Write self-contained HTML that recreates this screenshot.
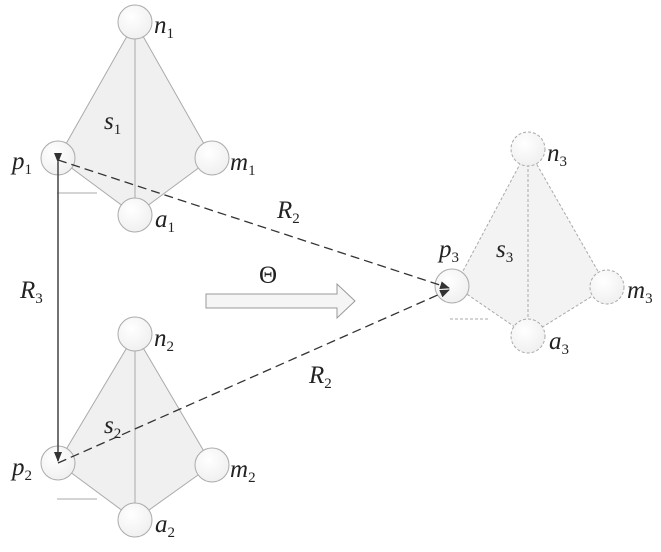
<!DOCTYPE html>
<html><head><style>body{margin:0;background:#fff}</style></head><body>
<svg width="661" height="547" xmlns="http://www.w3.org/2000/svg" font-family="Liberation Serif, serif" font-style="italic">
<defs>
<marker id="ah" markerWidth="10" markerHeight="8" refX="9" refY="4" orient="auto" markerUnits="userSpaceOnUse"><path d="M0,0 L10,4 L0,8 Z" fill="#333"/></marker>
<radialGradient id="g" cx="0.4" cy="0.35" r="0.7"><stop offset="0" stop-color="#fff"/><stop offset="1" stop-color="#efefef"/></radialGradient>
</defs>
<g stroke="#aaa" stroke-width="1">
<path d="M135,22 L58,158 L135,215 L212,158 Z" fill="#f0f0f0"/>
<line x1="135" y1="22" x2="135" y2="215"/>
<line x1="57" y1="193" x2="97" y2="193"/>
<circle cx="135" cy="22" r="17" fill="url(#g)"/><circle cx="58" cy="158" r="17" fill="url(#g)"/>
<circle cx="212" cy="158" r="17" fill="url(#g)"/><circle cx="135" cy="215" r="17" fill="url(#g)"/>
</g>
<g stroke="#aaa" stroke-width="1">
<path d="M135,334 L58,463 L135,520 L212,465 Z" fill="#f0f0f0"/>
<line x1="135" y1="334" x2="135" y2="520"/>
<line x1="57" y1="499" x2="97" y2="499"/>
<circle cx="135" cy="334" r="17" fill="url(#g)"/><circle cx="58" cy="463" r="17" fill="url(#g)"/>
<circle cx="212" cy="465" r="17" fill="url(#g)"/><circle cx="135" cy="520" r="17" fill="url(#g)"/>
</g>
<g stroke="#aaa" stroke-width="1" stroke-dasharray="3,2">
<path d="M528,149 L455,286 L528,336 L607,287 Z" fill="#f3f3f3"/>
<line x1="528" y1="149" x2="528" y2="336"/>
<line x1="450" y1="319" x2="490" y2="319"/>
<circle cx="528" cy="149" r="17" fill="url(#g)"/>
<circle cx="607" cy="287" r="17" fill="url(#g)"/><circle cx="528" cy="336" r="17" fill="url(#g)"/>
</g>
<circle cx="452" cy="286" r="17" fill="url(#g)" stroke="#aaa"/>
<line x1="58" y1="162" x2="58" y2="461" stroke="#444" stroke-width="1.5" marker-start="url(#ah)" marker-end="url(#ah)"/>
<line x1="58" y1="160" x2="449" y2="288" stroke="#333" stroke-width="1.3" stroke-dasharray="9,5" marker-end="url(#ah)"/>
<line x1="58" y1="463" x2="449" y2="290" stroke="#333" stroke-width="1.3" stroke-dasharray="9,5" marker-end="url(#ah)"/>
<path d="M206,294 L337,294 L337,284 L355,301 L337,318 L337,308 L206,308 Z" fill="#f5f5f5" stroke="#999"/>
<g font-size="25" fill="#222">
<text x="154" y="33">n<tspan font-size="15" font-style="normal" dy="5">1</tspan></text>
<text x="104" y="129">s<tspan font-size="15" font-style="normal" dy="5">1</tspan></text>
<text x="12" y="169">p<tspan font-size="15" font-style="normal" dy="5">1</tspan></text>
<text x="230" y="170">m<tspan font-size="15" font-style="normal" dy="5">1</tspan></text>
<text x="155" y="227">a<tspan font-size="15" font-style="normal" dy="5">1</tspan></text>
<text x="154" y="346">n<tspan font-size="15" font-style="normal" dy="5">2</tspan></text>
<text x="104" y="433">s<tspan font-size="15" font-style="normal" dy="5">2</tspan></text>
<text x="12" y="475">p<tspan font-size="15" font-style="normal" dy="5">2</tspan></text>
<text x="230" y="477">m<tspan font-size="15" font-style="normal" dy="5">2</tspan></text>
<text x="155" y="532">a<tspan font-size="15" font-style="normal" dy="5">2</tspan></text>
<text x="547" y="161">n<tspan font-size="15" font-style="normal" dy="5">3</tspan></text>
<text x="496" y="257">s<tspan font-size="15" font-style="normal" dy="5">3</tspan></text>
<text x="439" y="257">p<tspan font-size="15" font-style="normal" dy="5">3</tspan></text>
<text x="627" y="298">m<tspan font-size="15" font-style="normal" dy="5">3</tspan></text>
<text x="549" y="349">a<tspan font-size="15" font-style="normal" dy="5">3</tspan></text>
<text x="277" y="218">R<tspan font-size="15" font-style="normal" dy="5">2</tspan></text>
<text x="309" y="383">R<tspan font-size="15" font-style="normal" dy="5">2</tspan></text>
<text x="20" y="298">R<tspan font-size="15" font-style="normal" dy="5">3</tspan></text>
<text x="259" y="283" font-style="normal">Θ</text>
</g>
</svg>
</body></html>
